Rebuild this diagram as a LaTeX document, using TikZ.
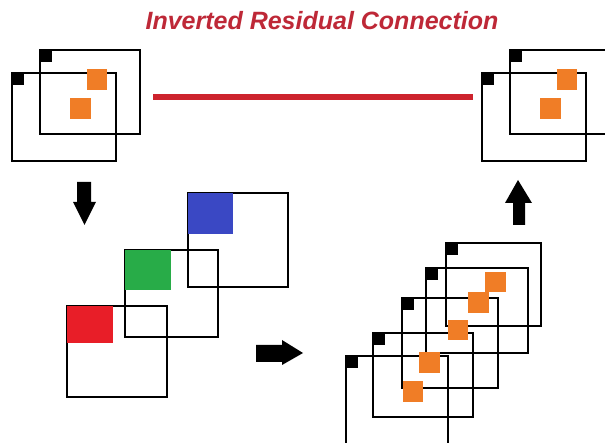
\documentclass[tikz,border=0pt]{standalone}
\usepackage{fontspec}
\setmainfont{Liberation Sans}
\begin{document}
\begin{tikzpicture}[x=1pt,y=-1pt,
  fmap/.style 2 args={draw=black, line width=1.4pt, inner sep=0pt, outer sep=0pt,
    anchor=north west, minimum width=#1, minimum height=#2},
  corner/.style={fill=black, inner sep=0pt, outer sep=0pt, minimum size=12pt, anchor=north west},
  chan/.style n args={3}{fill=#1, inner sep=0pt, outer sep=0pt, anchor=north west,
    minimum width=#2, minimum height=#3},
  blockarrow/.style={fill=black},
  resline/.style={draw=resred, line width=6pt}
]
\definecolor{resred}{RGB}{205,35,45}
\definecolor{titlered}{RGB}{190,40,55}
\definecolor{ora}{RGB}{240,125,38}
\definecolor{chred}{RGB}{232,30,40}
\definecolor{chgreen}{RGB}{40,172,72}
\definecolor{chblue}{RGB}{58,72,196}
\path[use as bounding box] (0,0) rectangle (605,443);
\fill[white] (0,0) rectangle (605,443);
\clip (0,0) rectangle (605,443);

% title
\node[text=titlered, font=\fontsize{25}{30}\selectfont\bfseries\itshape] (title) at (322,21) {Inverted Residual Connection};

% top-left group
\node[fmap={100pt}{84pt}] (L1) at (40,50) {};
\node[fmap={104pt}{88pt}] (L2) at (12,73) {};
\node[corner] (L1c) at (L1.north west) {};
\node[corner] (L2c) at (L2.north west) {};
\node[chan={ora}{20pt}{21pt}] (Lo1) at (87,69) {};
\node[chan={ora}{21pt}{21pt}] (Lo2) at (70,98) {};

% top-right group
\node[fmap={100pt}{84pt}] (R1) at (510,50) {};
\node[fmap={104pt}{88pt}] (R2) at (482,73) {};
\node[corner] (R1c) at (R1.north west) {};
\node[corner] (R2c) at (R2.north west) {};
\node[chan={ora}{20pt}{21pt}] (Ro1) at (557,69) {};
\node[chan={ora}{21pt}{21pt}] (Ro2) at (540,98) {};

% residual line
\coordinate (ra) at (153,97);
\coordinate (rb) at (473,97);
\draw[resline] (ra) -- (rb);

% bottom-left expansion group
\node[fmap={100pt}{94pt}] (B) at (188,193) {};
\node[fmap={93pt}{87pt}] (G) at (125,250) {};
\node[fmap={100pt}{91pt}] (Rr) at (67,306) {};
\node[chan={chblue}{45pt}{41pt}] (Bs) at (B.north west) {};
\node[chan={chgreen}{46pt}{40pt}] (Gs) at (G.north west) {};
\node[chan={chred}{46pt}{37pt}] (Rs) at (Rr.north west) {};

% bottom-right stack
\node[fmap={95pt}{83pt}] (S1) at (446,243) {};
\node[fmap={102pt}{85pt}] (S2) at (426,268) {};
\node[fmap={96pt}{90pt}] (S3) at (402,298) {};
\node[fmap={100pt}{84pt}] (S4) at (373,333) {};
\node[fmap={102pt}{100pt}] (S5) at (346,356) {};
\foreach \s in {S1,S2,S3,S4,S5} \node[corner] (\s c) at (\s.north west) {};
\node[chan={ora}{21pt}{20pt}] (So1) at (485,272) {};
\node[chan={ora}{21pt}{21pt}] (So2) at (468,292) {};
\node[chan={ora}{20pt}{20pt}] (So3) at (448,320) {};
\node[chan={ora}{21pt}{21pt}] (So4) at (419,352) {};
\node[chan={ora}{20pt}{21pt}] (So5) at (403,381) {};

% block arrows
\fill[blockarrow] (77,182) -- (91,182) -- (91,202) -- (96,202) -- (84.5,225) -- (73,202) -- (77,202) -- cycle;
\fill[blockarrow] (256,345) -- (282,345) -- (282,340) -- (303,353) -- (282,365) -- (282,362) -- (256,362) -- cycle;
\fill[blockarrow] (513,225) -- (525,225) -- (525,203) -- (532,203) -- (518,180) -- (505,203) -- (513,203) -- cycle;
\end{tikzpicture}
\end{document}
